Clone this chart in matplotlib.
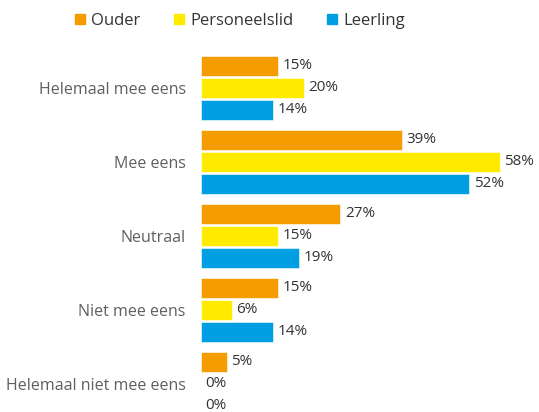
import matplotlib
matplotlib.use('Agg')
import matplotlib.pyplot as plt
import matplotlib.patches as mpatches
import numpy as np

plt.rcParams.update({'font.family': ['Open Sans', 'DejaVu Sans'], 'font.size': 11})

categories = ['Helemaal mee eens', 'Mee eens', 'Neutraal', 'Niet mee eens',
              'Helemaal niet mee eens']
series = ['Ouder', 'Personeelslid', 'Leerling']
ouder = [15, 39, 27, 15, 5]
personeelslid = [20, 58, 15, 6, 0]
leerling = [14, 52, 19, 14, 0]
colors = ['#F59C00', '#FFEB00', '#009FE3']

fig = plt.figure(figsize=(5.39, 4.12), dpi=100)
ax = fig.add_axes([201/539, 0, 1 - 201/539, 362/412])

y = np.arange(len(categories))
h = 0.27
step = 0.297
for i, (vals, c) in enumerate(zip([ouder, personeelslid, leerling], colors)):
    pos = y + (i - 1) * step
    ax.barh(pos, vals, height=h, color=c, edgecolor='white', linewidth=0.4)
    for p, v in zip(pos, vals):
        ax.text(v + 0.9, p, f'{v}%', va='center', ha='left',
                fontsize=11, color='#333333')

ax.set_xlim(0, 65.6)
ax.set_ylim(4.38, -0.51)
ax.set_yticks(y)
ax.set_yticklabels(categories, fontsize=11.5, color='#5f5f5f')
ax.tick_params(axis='y', length=0, pad=11)
ax.set_xticks([])
for s in ax.spines.values():
    s.set_visible(False)

handles = [mpatches.Patch(color=c, label=s) for s, c in zip(series, colors)]
fig.legend(handles=handles, loc='center', bbox_to_anchor=(240/539, 1 - 21/412),
           ncol=3, frameon=False, fontsize=12, handlelength=0.6, handleheight=0.6,
           handletextpad=0.4, columnspacing=2.0, labelcolor='#333333')

fig.savefig('out.png', dpi=100)
